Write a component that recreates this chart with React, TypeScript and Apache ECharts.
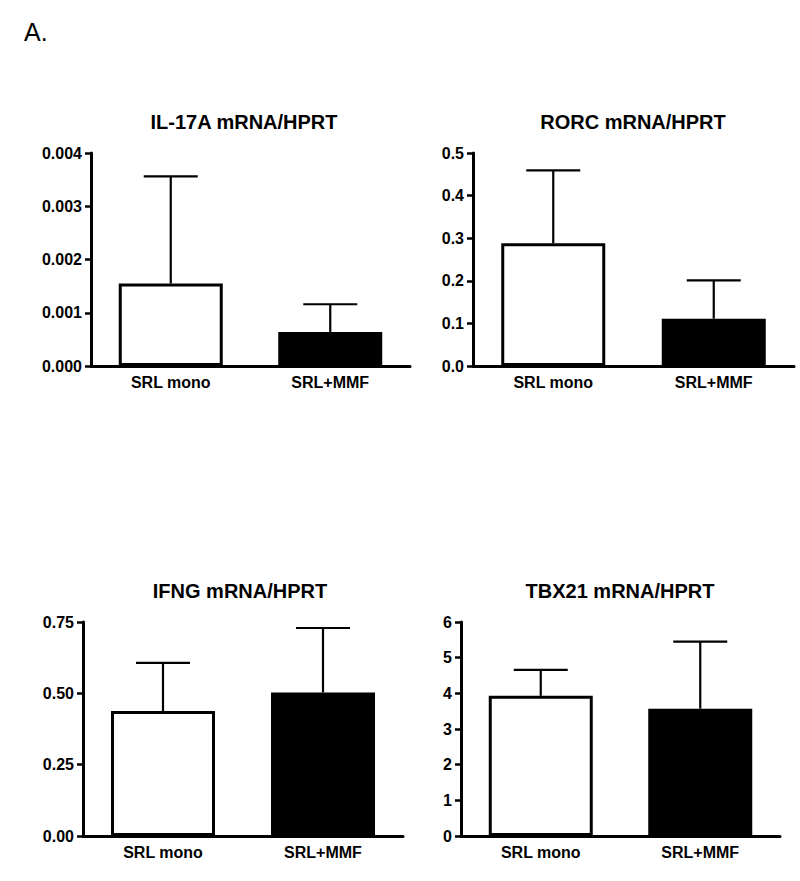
import React, { useEffect, useRef } from "react";
import * as echarts from "echarts";

const categories = ["SRL mono", "SRL+MMF"];

const il17aMean = [0.00155, 0.00064];
const il17aErr = [0.00201, 0.00052];

const rorcMean = [0.288, 0.111];
const rorcErr = [0.171, 0.09];

const ifngMean = [0.438, 0.503];
const ifngErr = [0.169, 0.226];

const tbx21Mean = [3.93, 3.57];
const tbx21Err = [0.73, 1.88];

const titles = [
  "IL-17A mRNA/HPRT",
  "RORC mRNA/HPRT",
  "IFNG mRNA/HPRT",
  "TBX21 mRNA/HPRT",
];

const yMax = [0.004, 0.5, 0.75, 6];
const yInterval = [0.001, 0.1, 0.25, 1];
const yDecimals = [3, 1, 2, 0];

const FONT = '"Liberation Sans", Arial, Helvetica, sans-serif';

export default function App() {
  const ref = useRef<HTMLDivElement>(null);

  useEffect(() => {
    if (!ref.current) return;
    const chart = echarts.init(ref.current, null, { renderer: "svg" });

    const means = [il17aMean, rorcMean, ifngMean, tbx21Mean];
    const errs = [il17aErr, rorcErr, ifngErr, tbx21Err];

    const grids = [
      { left: 91, top: 153, width: 319, height: 213 },
      { left: 473, top: 153, width: 321, height: 213 },
      { left: 83, top: 622, width: 320, height: 214 },
      { left: 461, top: 622, width: 319, height: 214 },
    ];
    const titlePos = [
      [244, 122],
      [633, 122],
      [240, 591],
      [620, 591],
    ];

    const xAxes = grids.map((_, i) => ({
      type: "category",
      gridIndex: i,
      data: categories,
      boundaryGap: true,
      axisLine: { lineStyle: { color: "#000", width: 3 } },
      axisTick: { show: false },
      axisLabel: {
        color: "#000",
        fontFamily: FONT,
        fontWeight: "bold",
        fontSize: 16,
        margin: 8,
      },
    }));

    const yAxes = grids.map((_, i) => ({
      type: "value",
      gridIndex: i,
      min: 0,
      max: yMax[i],
      interval: yInterval[i],
      splitLine: { show: false },
      axisLine: { show: true, lineStyle: { color: "#000", width: 3 } },
      axisTick: {
        show: true,
        inside: false,
        length: 6,
        lineStyle: { color: "#000", width: 2.5 },
      },
      axisLabel: {
        color: "#000",
        fontFamily: FONT,
        fontWeight: "bold",
        fontSize: 16,
        margin: 9,
        formatter: (v: number) => v.toFixed(yDecimals[i]),
      },
    }));

    const series: any[] = [];
    means.forEach((m, i) => {
      series.push({
        type: "bar",
        xAxisIndex: i,
        yAxisIndex: i,
        barWidth: 104,
        data: m.map((v, j) => ({
          value: v,
          itemStyle: {
            color: j === 0 ? "#fff" : "#000",
            borderColor: "#000",
            borderWidth: 3,
          },
        })),
        z: 2,
      });
      series.push({
        type: "custom",
        xAxisIndex: i,
        yAxisIndex: i,
        z: 3,
        data: m.map((v, j) => [j, v, errs[i][j]]),
        encode: { x: 0, y: 1 },
        renderItem: (params: any, api: any) => {
          const idx = api.value(0);
          const mean = api.value(1);
          const sd = api.value(2);
          const base = api.coord([idx, mean]);
          const top = api.coord([idx, mean + sd]);
          const half = 27;
          const style = { stroke: "#000", lineWidth: 2.2 };
          return {
            type: "group",
            children: [
              {
                type: "line",
                shape: { x1: base[0], y1: base[1], x2: top[0], y2: top[1] },
                style,
              },
              {
                type: "line",
                shape: {
                  x1: top[0] - half,
                  y1: top[1],
                  x2: top[0] + half,
                  y2: top[1],
                },
                style,
              },
            ],
          };
        },
      });
    });

    const graphic: any[] = titles.map((t, i) => ({
      type: "text",
      x: titlePos[i][0],
      y: titlePos[i][1],
      style: {
        text: t,
        fill: "#000",
        font: `bold 20px ${FONT}`,
        align: "center",
        verticalAlign: "middle",
        textAlign: "center",
        textVerticalAlign: "middle",
      },
    }));
    graphic.push({
      type: "text",
      x: 24,
      y: 32,
      style: {
        text: "A.",
        fill: "#000",
        font: `25px ${FONT}`,
        align: "left",
        verticalAlign: "middle",
        textAlign: "left",
        textVerticalAlign: "middle",
      },
    });

    chart.setOption({
      animation: false,
      backgroundColor: "#fff",
      grid: grids,
      xAxis: xAxes,
      yAxis: yAxes,
      series,
      graphic,
    });

    return () => chart.dispose();
  }, []);

  return (
    <div
      ref={ref}
      style={{ position: "fixed", left: 0, top: 0, width: 800, height: 881 }}
    />
  );
}
